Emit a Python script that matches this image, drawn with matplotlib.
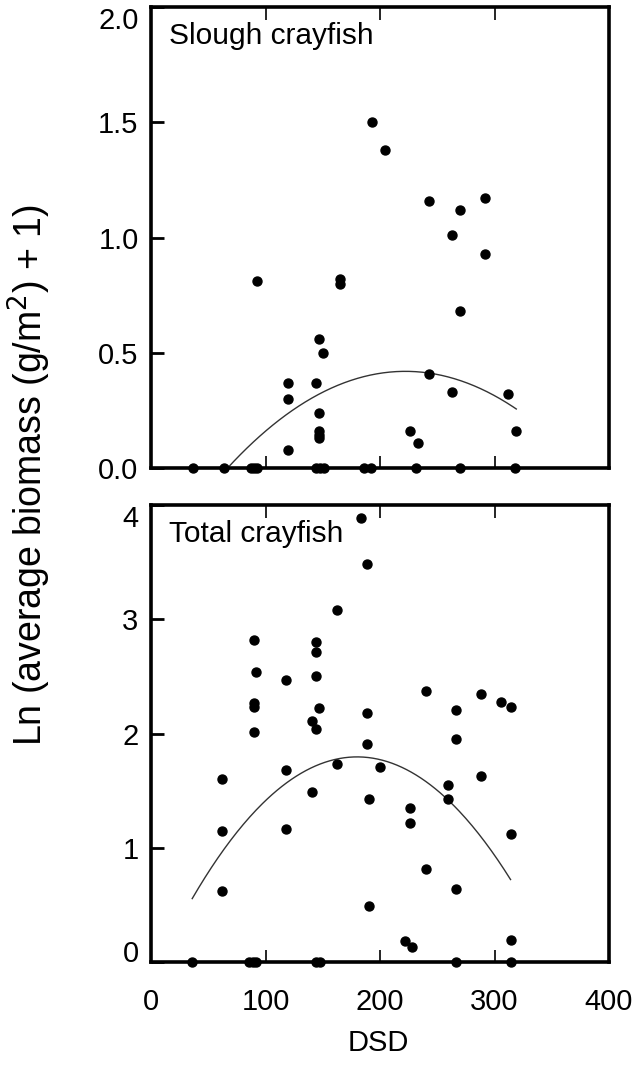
import numpy as np
import matplotlib
matplotlib.use("Agg")
import matplotlib.pyplot as plt

plt.rcParams['font.family'] = ['Liberation Sans', 'DejaVu Sans']

# Slough crayfish: DSD vs ln(biomass + 1)
slough_dsd = [193, 204, 243, 292, 270, 263, 292, 270, 243, 263, 312, 319, 226, 233,
              93, 165, 165, 147, 150, 120, 144, 120, 147, 147, 147, 147, 120,
              37, 64, 87, 90, 93, 144, 148, 151, 186, 192, 231, 270, 318]
slough_ln = [1.50, 1.38, 1.16, 1.17, 1.12, 1.01, 0.93, 0.68, 0.41, 0.33, 0.32, 0.16, 0.16, 0.11,
             0.81, 0.82, 0.80, 0.56, 0.50, 0.37, 0.37, 0.30, 0.24, 0.16, 0.145, 0.13, 0.08,
             0, 0, 0, 0, 0, 0, 0, 0, 0, 0, 0, 0, 0]

# Total crayfish
total_dsd = [183, 189, 162, 90, 144, 144, 92, 118, 144, 90, 90, 147, 141, 144, 90,
             240, 288, 306, 314, 266, 189, 266, 189, 62, 118, 162, 141, 62, 118, 62,
             200, 190, 226, 226, 259, 259, 288, 314, 240, 266, 190, 222, 228, 314,
             36, 86, 89, 92, 144, 148, 266, 314]
total_ln = [3.89, 3.48, 3.08, 2.82, 2.80, 2.71, 2.54, 2.47, 2.50, 2.27, 2.235, 2.22, 2.11, 2.04, 2.015,
            2.37, 2.35, 2.28, 2.235, 2.21, 2.18, 1.95, 1.91, 1.60, 1.685, 1.73, 1.49, 1.15, 1.165, 0.62,
            1.71, 1.43, 1.35, 1.22, 1.55, 1.43, 1.63, 1.12, 0.81, 0.64, 0.49, 0.185, 0.135, 0.19,
            0, 0, 0, 0, 0, 0, 0, 0]

# quadratic fits (a, b, c)
slough_fit = [-1.74e-5, 0.00773, -0.439]
total_fit = [-5.98e-5, 0.02153, -0.1425]

fig = plt.figure(figsize=(6.35, 10.72), dpi=100)
ax1 = fig.add_axes([0.2378, 0.5634, 0.7213, 0.4300])
ax2 = fig.add_axes([0.2378, 0.1026, 0.7213, 0.4263])


def draw_panel(ax, dsd, ln, fit, title, ylim, yticks, ylabels):
    ax.scatter(dsd, ln, s=42, color='black', zorder=3, clip_on=False)
    xs = np.linspace(min(dsd), max(dsd), 200)
    ax.plot(xs, np.polyval(fit, xs), color='#333333', lw=1.0)
    ax.set_xlim(0, 400)
    ax.set_ylim(*ylim)
    ax.set_xticks([0, 100, 200, 300, 400])
    ax.set_yticks(yticks)
    ax.set_yticklabels(ylabels)
    for s in ax.spines.values():
        s.set_linewidth(2.6)
    ax.tick_params(axis='x', direction='in', top=True, length=9, width=1.2, pad=19, labelsize=21)
    ax.tick_params(axis='y', direction='in', length=9, width=2.0, pad=9, labelsize=21)
    ax.text(0.04, 0.968, title, transform=ax.transAxes, fontsize=21.5, va='top', ha='left')


draw_panel(ax1, slough_dsd, slough_ln, slough_fit, 'Slough crayfish',
           (0, 2.0), [0, 0.5, 1.0, 1.5, 2.0], ['0.0', '0.5', '1.0', '1.5', '2.0'])
ax1.tick_params(axis='x', labelbottom=False)
ax1.get_yticklabels()[-1].set_va('top')

draw_panel(ax2, total_dsd, total_ln, total_fit, 'Total crayfish',
           (0, 4.0), [0, 1, 2, 3, 4], ['0', '1', '2', '3', '4'])
ax2.get_yticklabels()[-1].set_va('top')
ax2.get_yticklabels()[0].set_va('baseline')

fig.text(0.047, 1 - 475 / 1072, 'Ln (average biomass (g/m$^2$) + 1)', rotation=90,
         ha='center', va='center', fontsize=27)
fig.text(378 / 635, 1 - 1043 / 1072, 'DSD', ha='center', va='center', fontsize=21)

fig.savefig('out.png', dpi=100)
